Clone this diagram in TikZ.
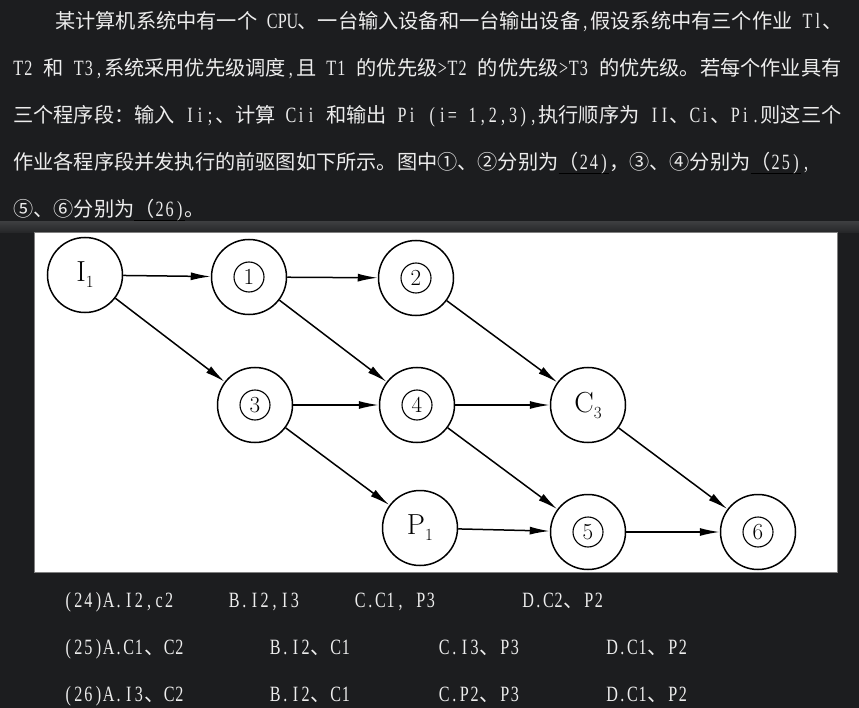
\documentclass[tikz,border=0pt]{standalone}
\usepackage{fontspec}
\newfontfamily\cjk{Noto Sans CJK SC}
\newfontfamily\latfont[FakeStretch=0.74,Scale=1.08]{Liberation Serif}
\usetikzlibrary{arrows.meta}
\definecolor{darkbg}{HTML}{1C1D1F}
\definecolor{bandtop}{HTML}{3C3D3F}
\definecolor{bandlow}{HTML}{242527}
\definecolor{txtgray}{HTML}{EDEDED}
\definecolor{rimgray}{HTML}{808080}
\newcommand{\lowtag}[2]{#1\raisebox{-6pt}{\fontsize{17}{17}\selectfont #2}}
\newcommand{\cnum}[1]{\tikz\node[circle,draw,line width=1.1pt,inner sep=0pt,minimum size=30pt,font=\fontsize{23}{23}\selectfont] (d#1) {#1};}
\newcommand{\blank}[1]{\setbox0\hbox{#1}\rlap{\color{black}\rule[-4pt]{\wd0}{.8pt}}\box0}
% half-width latin letters, one box each (~ for a space)
\def\hw#1{{\latfont\hwx#1\relax}}
\def\hwx#1{\ifx#1\relax\else\makebox[10.1pt]{#1}\expandafter\hwx\fi}

\begin{document}
\begin{tikzpicture}[x=1pt,y=-1pt,
	job/.style={circle, draw, fill=white, line width=1.5pt, minimum size=75pt, inner sep=0pt, font=\fontsize{29}{29}\selectfont},
	prec/.style={->, line width=1.5pt},
	>={Latex[length=20pt,width=8pt]},
	line/.style={anchor=base west, inner sep=0pt, text=txtgray, font=\cjk\fontsize{20.2}{24}\selectfont}]
	\fill[darkbg] (0,0) rectangle (859,708);
	\useasboundingbox (0,0) rectangle (859,708);
	\shade[top color=bandtop, bottom color=bandlow] (0,222) rectangle (859,233);
	\fill[white] (34,233) rectangle (837,572);
	\draw[rimgray, line width=1pt] (34,233) rectangle (837,572);

	% question text
	\node[line] (l1) at (55,29) {某计算机系统中有一个\hw{~CPU}、一台输入设备和一台输出设备\hw{,}假设系统中有三个作业\hw{~Tl}、};
	\node[line] (l2) at (13,76) {\hw{T2~}和\hw{~T3,}系统采用优先级调度\hw{,}且\hw{~T1~}的优先级\hw{>T2~}的优先级\hw{>T3~}的优先级。若每个作业具有};
	\node[line] (l3) at (13,123) {三个程序段：输入\hw{~Ii;}、计算\hw{~Cii~}和输出\hw{~Pi~(i=~1,2,3),}执行顺序为\hw{~II}、\hw{Ci}、\hw{Pi.}则这三个};
	\node[line] (l4) at (13,170) {作业各程序段并发执行的前驱图如下所示。图中①、②分别为\blank{（\hw{24)}}，③、④分别为\blank{（\hw{25)}}\hw{,}};
	\node[line] (l5) at (13,217) {⑤、⑥分别为\blank{（\hw{26)}}。};

	% precedence graph
	\node[job] (i1) at (85,275) {\lowtag{I}{1}};
	\node[job] (n1) at (249,277) {\cnum{1}};
	\node[job] (n2) at (416,278) {\cnum{2}};
	\node[job] (n3) at (255,405) {\cnum{3}};
	\node[job] (n4) at (417,405) {\cnum{4}};
	\node[job] (c3) at (588,405) {\lowtag{C}{3}};
	\node[job] (p1) at (420,528) {\lowtag{P}{1}};
	\node[job] (n5) at (588,532) {\cnum{5}};
	\node[job] (n6) at (758,532) {\cnum{6}};
	\draw[prec] (i1) -- (n1);
	\draw[prec] (n1) -- (n2);
	\draw[prec] (i1) -- (n3);
	\draw[prec] (n1) -- (n4);
	\draw[prec] (n2) -- (c3);
	\draw[prec] (n3) -- (n4);
	\draw[prec] (n4) -- (c3);
	\draw[prec] (n3) -- (p1);
	\draw[prec] (n4) -- (n5);
	\draw[prec] (c3) -- (n6);
	\draw[prec] (p1) -- (n5);
	\draw[prec] (n5) -- (n6);

	% choices
	\node[line] (a24) at (63,607) {\hw{(24)A.I2,c2}};
	\node[line] (b24) at (229,607) {\hw{B.I2,I3}};
	\node[line] (c24) at (355,607) {\hw{C.C1,~P3}};
	\node[line] (d24) at (523,607) {\hw{D.C2}、\hw{P2}};
	\node[line] (a25) at (63,654) {\hw{(25)A.C1}、\hw{C2}};
	\node[line] (b25) at (270,654) {\hw{B.I2}、\hw{C1}};
	\node[line] (c25) at (439,654) {\hw{C.I3}、\hw{P3}};
	\node[line] (d25) at (607,654) {\hw{D.C1}、\hw{P2}};
	\node[line] (a26) at (63,701) {\hw{(26)A.I3}、\hw{C2}};
	\node[line] (b26) at (270,701) {\hw{B.I2}、\hw{C1}};
	\node[line] (c26) at (439,701) {\hw{C.P2}、\hw{P3}};
	\node[line] (d26) at (607,701) {\hw{D.C1}、\hw{P2}};
\end{tikzpicture}
\end{document}
